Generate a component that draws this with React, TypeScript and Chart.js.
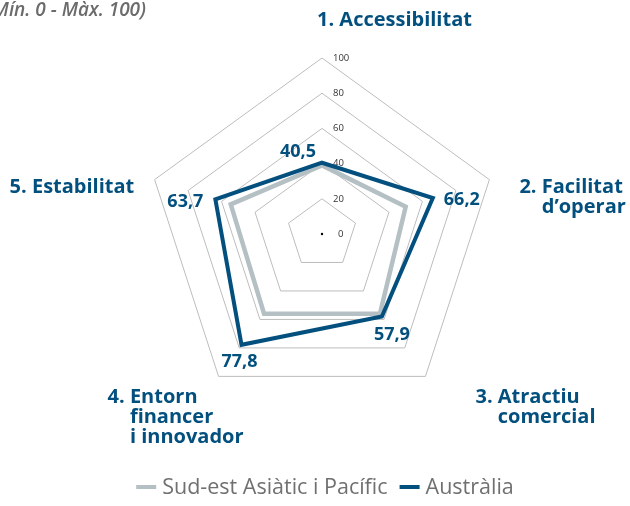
import { useEffect, useRef } from 'react';
import { Chart, registerables } from 'chart.js';
Chart.register(...registerables);

const CATEGORIES: string[][] = [
  ['1. Accessibilitat'],
  ['2. Facilitat', 'd’operar'],
  ['3. Atractiu', 'comercial'],
  ['4. Entorn', 'financer', 'i innovador'],
  ['5. Estabilitat'],
];
const SERIES_NAMES = ['Sud-est Asiàtic i Pacífic', 'Austràlia'];
const SEA_VALUES = [39, 50, 56, 56, 54.5];
const AUS_VALUES = [40.5, 66.2, 57.9, 77.8, 63.7];
const TICKS = [0, 20, 40, 60, 80, 100];
const SUBTITLE = '(Mín. 0 - Màx. 100)';

const BLUE = '#03507f';
const GREY = '#b5c0c5';
const FONT = '"Open Sans", "DejaVu Sans", sans-serif';

// label placement relative to the 100-vertex of each axis (left x, first baseline)
const LABEL_OFFSETS = [
  [-5, -32],
  [30, 13],
  [50, 27],
  [-111, 27],
  [-145, 13],
];
// data label placement relative to each Australia point (center x, baseline)
const VALUE_OFFSETS = [
  [-24, -6],
  [29, 7],
  [10, 24],
  [-2, 22],
  [-30, 8],
];

const fmt = (v: number) => String(v).replace('.', ',');

const overlayPlugin = {
  id: 'overlay',
  beforeDatasetsDraw(chart: any) {
    const scale = chart.scales.r;
    const ctx = chart.ctx;
    ctx.save();
    ctx.font = `9.5px ${FONT}`;
    ctx.fillStyle = '#333333';
    ctx.textAlign = 'left';
    ctx.textBaseline = 'middle';
    TICKS.forEach((t) => {
      const d = scale.getDistanceFromCenterForValue(t);
      const x = scale.xCenter + (t === 0 ? 16 : 11);
      ctx.fillText(String(t), x, scale.yCenter - d);
    });
    ctx.beginPath();
    ctx.arc(scale.xCenter, scale.yCenter, 1.2, 0, Math.PI * 2);
    ctx.fillStyle = '#000';
    ctx.fill();
    ctx.restore();
  },
  afterDraw(chart: any) {
    const scale = chart.scales.r;
    const ctx = chart.ctx;
    ctx.save();
    // category labels
    ctx.font = `bold 20px ${FONT}`;
    ctx.fillStyle = BLUE;
    ctx.textAlign = 'left';
    ctx.textBaseline = 'alphabetic';
    CATEGORIES.forEach((lines, i) => {
      const p = scale.getPointPositionForValue(i, 100);
      const x = p.x + LABEL_OFFSETS[i][0];
      const y = p.y + LABEL_OFFSETS[i][1];
      const m = lines[0].match(/^\d+\.\s/);
      const indent = m ? ctx.measureText(m[0]).width : 0;
      lines.forEach((ln, j) => {
        ctx.fillText(ln, j === 0 ? x : x + indent, y + j * 20);
      });
    });
    // data labels for Australia
    const meta = chart.getDatasetMeta(1);
    ctx.font = `bold 18px ${FONT}`;
    ctx.textAlign = 'center';
    meta.data.forEach((pt: any, i: number) => {
      ctx.fillText(fmt(AUS_VALUES[i]), pt.x + VALUE_OFFSETS[i][0], pt.y + VALUE_OFFSETS[i][1]);
    });
    // subtitle (clipped at left)
    ctx.font = `italic 600 19px ${FONT}`;
    ctx.fillStyle = '#6b6b6b';
    ctx.textAlign = 'right';
    ctx.fillText(SUBTITLE, 146, 16);
    // legend
    ctx.font = `21.5px ${FONT}`;
    ctx.textAlign = 'left';
    ctx.textBaseline = 'alphabetic';
    const items = chart.data.datasets.map((ds: any) => ({
      text: ds.label,
      color: ds.borderColor,
      w: ctx.measureText(ds.label).width,
    }));
    const box = 20, gap = 6, between = 12;
    const total = items.reduce((s: number, it: any) => s + box + gap + it.w, 0) + between * (items.length - 1);
    let x = 325 - total / 2;
    const base = 494;
    items.forEach((it: any) => {
      ctx.fillStyle = it.color;
      ctx.fillRect(x, base - 9, box, 4);
      x += box + gap;
      ctx.fillStyle = '#707070';
      ctx.fillText(it.text, x, base);
      x += it.w + between;
    });
    ctx.restore();
  },
};

export default function App() {
  const ref = useRef<HTMLCanvasElement>(null);
  useEffect(() => {
    document.body.style.margin = '0';
    let chart: Chart | null = null;
    let cancelled = false;
    const make = () => {
      if (cancelled || !ref.current) return;
      chart = new Chart(ref.current, {
        type: 'radar',
        data: {
          labels: CATEGORIES.map((c) => c.join(' ')),
          datasets: [
            {
              label: SERIES_NAMES[0],
              data: SEA_VALUES,
              borderColor: GREY,
              backgroundColor: GREY,
              borderWidth: 4.5,
              fill: false,
              pointRadius: 0,
              borderJoinStyle: 'miter',
              order: 1,
            },
            {
              label: SERIES_NAMES[1],
              data: AUS_VALUES,
              borderColor: BLUE,
              backgroundColor: BLUE,
              borderWidth: 4,
              fill: false,
              pointRadius: 0,
              borderJoinStyle: 'miter',
              order: 0,
            },
          ],
        },
        options: {
          responsive: false,
          animation: false,
          layout: { padding: { top: 58, left: 146, right: 132, bottom: 96 } },
          elements: { line: { tension: 0 } },
          scales: {
            r: {
              min: 0,
              max: 100,
              ticks: { stepSize: 20, display: false },
              grid: { color: '#bdbdbd', lineWidth: 1, circular: false },
              angleLines: { display: false },
              pointLabels: { display: false },
            },
          },
          plugins: {
            tooltip: { enabled: false },
            legend: { display: false },
          },
        },
        plugins: [overlayPlugin],
      } as any);
    };
    const fonts = (document as any).fonts;
    if (fonts && fonts.load) {
      Promise.all([
        fonts.load(`bold 20px "Open Sans"`),
        fonts.load(`20px "Open Sans"`),
        fonts.load(`italic 600 19px "Open Sans"`),
      ])
        .catch(() => null)
        .then(make);
    } else make();
    return () => {
      cancelled = true;
      if (chart) chart.destroy();
    };
  }, []);
  return (
    <div style={{ width: 630, height: 506 }}>
      <canvas ref={ref} width={630} height={506} />
    </div>
  );
}
